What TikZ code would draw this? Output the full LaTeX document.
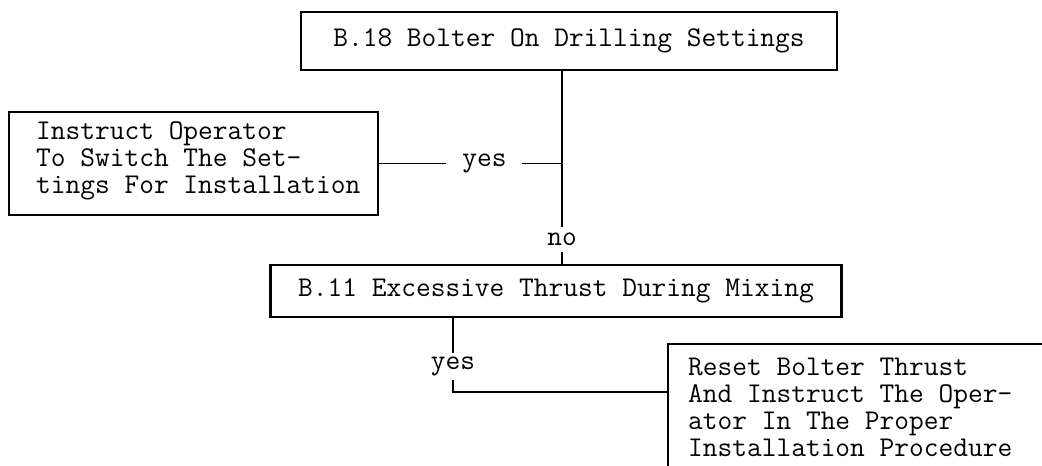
\documentclass[tikz,border=0pt]{standalone}
\begin{document}
\begin{tikzpicture}[x=1pt,y=-1pt,
  txtfont/.style={font=\ttfamily\fontsize{28.6pt}{27pt}\selectfont},
  box/.style={draw, line width=2.2pt, inner sep=0pt, txtfont},
  txt/.style={inner sep=0pt, align=left, anchor=west, txtfont},
  conn/.style={line width=1.6pt},
  lbl/.style={fill=white, inner sep=0pt, txtfont}]
\useasboundingbox (0,0) rectangle (1042,466);
\clip (0,0) rectangle (1042,466);
% boxes
\node[box, minimum width=536pt, minimum height=58pt] (top) at (569,41) {B.18 Bolter On Drilling Settings};
\node[box, minimum width=369pt, minimum height=103pt] (instr) at (193.5,163.5) {};
\node[txt] (instrtxt) at (36,161) {Instruct Operator\\To Switch The Set-\\tings For Installation};
\node[box, minimum width=571pt, minimum height=52pt] (b11) at (556,291) {B.11 Excessive Thrust During Mixing};
\node[box, anchor=north west, minimum width=450pt, minimum height=200pt] (reset) at (667,343) {};
\node[txt] (resettxt) at (688,407) {Reset Bolter Thrust\\And Instruct The Oper-\\ator In The Proper\\Installation Procedure};
% connectors
\coordinate (ty) at (562,163);
\coordinate (ly) at (453,392);
\draw[conn] (top.south -| ty) -- node[lbl, pos=0.874, minimum height=25pt]{no} (b11.north -| ty);
\draw[conn] (instr.east) -- node[lbl, pos=0.576, minimum width=76pt]{yes} (instr.east -| ty);
\draw[conn] (b11.south -| ly) -- node[lbl, pos=0.66, minimum height=27pt]{yes} (ly) -- (reset.west |- ly);
\end{tikzpicture}
\end{document}
